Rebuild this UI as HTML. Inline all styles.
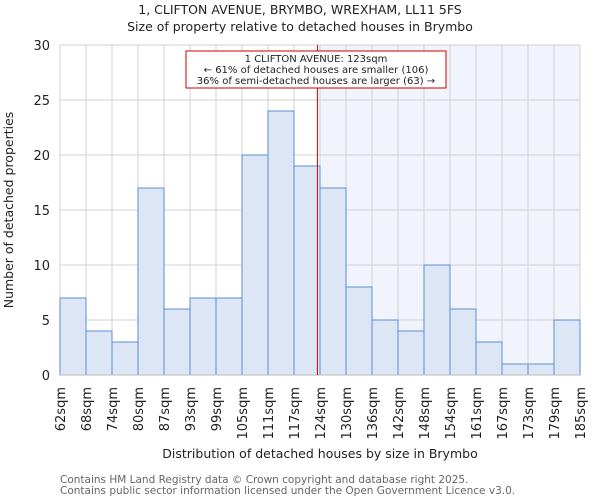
<!DOCTYPE html>
<html><head><meta charset="utf-8"><style>
body{margin:0;background:#fff;font-family:"DejaVu Sans","Liberation Sans",sans-serif;}
svg text{font-family:"DejaVu Sans","Liberation Sans",sans-serif;}
</style></head><body>
<svg id="chart" width="600" height="500">
<text x="300" y="14" text-anchor="middle" font-size="12.5" fill="#222">1, CLIFTON AVENUE, BRYMBO, WREXHAM, LL11 5FS</text>
<text x="300" y="31" text-anchor="middle" font-size="12.5" fill="#222">Size of property relative to detached houses in Brymbo</text>
<g id="plot"></g>
<text transform="translate(13,210) rotate(-90)" text-anchor="middle" font-size="12.5" fill="#222">Number of detached properties</text>
<text x="320" y="458" text-anchor="middle" font-size="12.5" fill="#222">Distribution of detached houses by size in Brymbo</text>
<text x="60" y="483" font-size="10.5" fill="#666">Contains HM Land Registry data © Crown copyright and database right 2025.</text>
<text x="60" y="494" font-size="10.5" fill="#666">Contains public sector information licensed under the Open Government Licence v3.0.</text>
</svg>
<script>
const tickLabels=["62sqm","68sqm","74sqm","80sqm","87sqm","93sqm","99sqm","105sqm","111sqm","117sqm","124sqm","130sqm","136sqm","142sqm","148sqm","154sqm","161sqm","167sqm","173sqm","179sqm","185sqm"];
const counts=[7,4,3,17,6,7,7,20,24,19,17,8,5,4,10,6,3,1,1,5];
const yTicks=[0,5,10,15,20,25,30];
const markerBin=9.9;
const NS="http://www.w3.org/2000/svg";
const g=document.getElementById('plot');
const X0=60,X1=580,Y0=375,Y1=45,YMAX=30;
const bw=(X1-X0)/counts.length;
const xs=i=>X0+i*bw;
const ys=v=>Y0-(v/YMAX)*(Y0-Y1);
function mk(t,a){const e=document.createElementNS(NS,t);for(const k in a)e.setAttribute(k,a[k]);g.appendChild(e);return e;}
const mx=xs(markerBin);
let e=mk('rect',{x:mx,y:Y1,width:X1-mx,height:Y0-Y1,fill:'#f1f4fc'});


yTicks.forEach(t=>{
 let l=mk('line',{x1:X0,x2:X1,y1:ys(t),y2:ys(t),stroke:'#d0d0d0','stroke-width':1});
 
 
 let tx=mk('text',{x:X0-10,y:ys(t)+5,'text-anchor':'end','font-size':13,fill:'#222'});
 tx.textContent=t;
 
 
});
tickLabels.forEach((lab,i)=>{
 let l=mk('line',{x1:xs(i),x2:xs(i),y1:Y1,y2:Y0,stroke:'#d0d0d0','stroke-width':1});
 
 
 let tx=mk('text',{transform:`translate(${xs(i)+5},${Y0+12}) rotate(-90)`,'text-anchor':'end','font-size':13,fill:'#222'});
 tx.textContent=lab;
 
 
});
counts.forEach((v,i)=>{
 let r=mk('rect',{x:xs(i),y:ys(v),width:bw,height:Y0-ys(v),fill:'#dce6f4',stroke:'#5b8fd6','stroke-width':1});
 
 
});
let ax=mk('line',{x1:X0,x2:X1,y1:Y0,y2:Y0,stroke:'#bbb','stroke-width':1});


let ml=mk('line',{x1:mx,x2:mx,y1:Y1,y2:Y0,stroke:'#c00','stroke-width':1});


let box=mk('rect',{x:186,y:51,width:260,height:37,fill:'#fff',stroke:'#c00','stroke-width':1});


["1 CLIFTON AVENUE: 123sqm","← 61% of detached houses are smaller (106)","36% of semi-detached houses are larger (63) →"].forEach((s,i)=>{
 let t=mk('text',{x:316,y:62+i*11,'text-anchor':'middle','font-size':10,fill:'#222'});
 t.textContent=s;
 
 
});
</script>
</body></html>
